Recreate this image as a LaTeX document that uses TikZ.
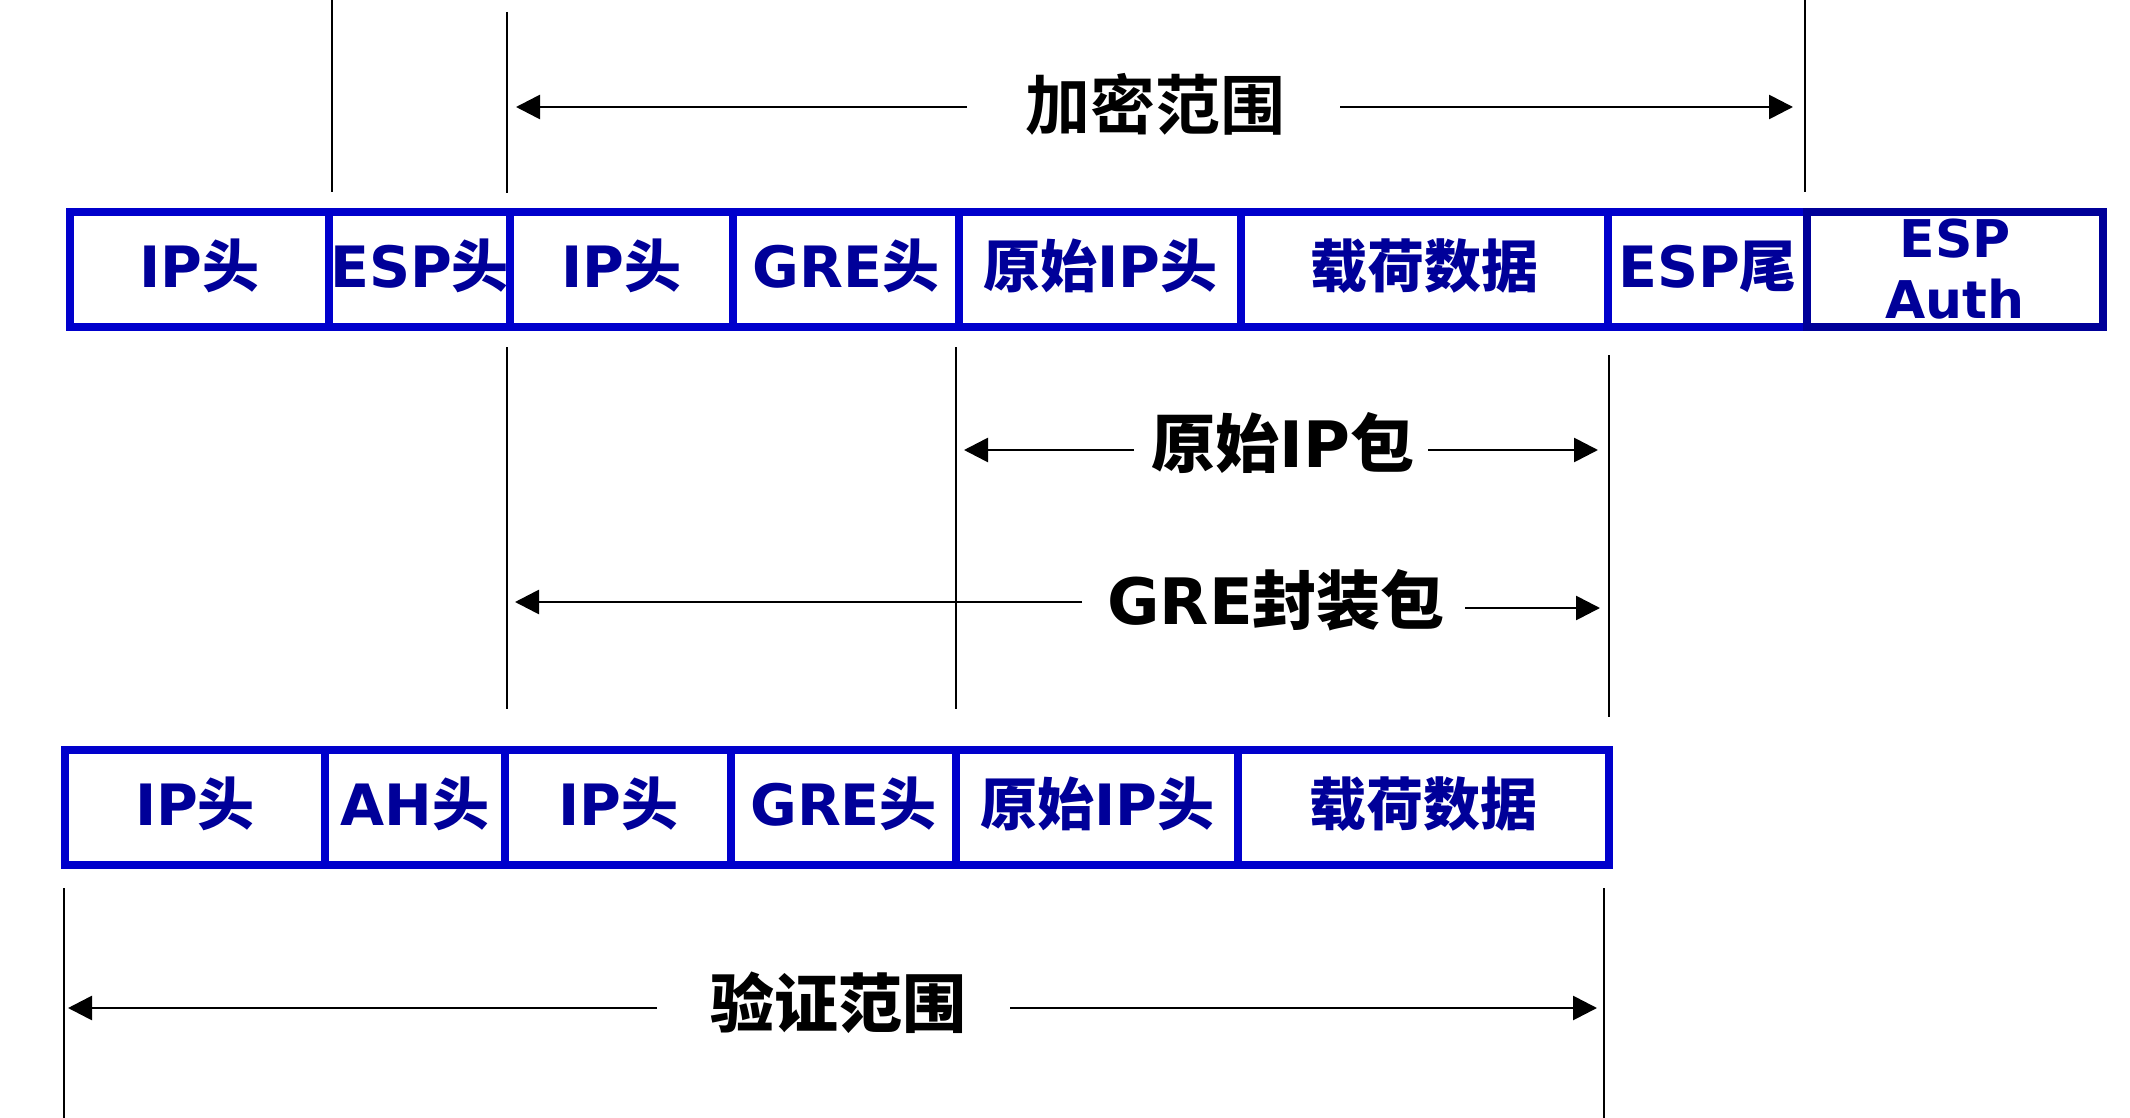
\documentclass[tikz,border=0pt]{standalone}
\usepackage{fontspec}
\setmainfont{DejaVu Sans}
\newfontfamily\cjkf{Noto Sans CJK SC}[UprightFont=* Bold]
\newcommand\zh[1]{{\cjkf #1}}
\newcommand\cl[1]{\makebox[0pt]{#1}}
\usetikzlibrary{arrows.meta}
\definecolor{cellblue}{HTML}{0000CC}
\definecolor{authblue}{HTML}{000099}
\definecolor{txtblue}{HTML}{000099}
\tikzset{
  basecell/.style={draw=cellblue, line width=4pt, rectangle, outer sep=0pt, inner sep=0pt,
    minimum height=57.5pt, anchor=west, text=txtblue,
    font=\fontsize{28.5pt}{30.5pt}\selectfont\bfseries},
  cell/.style={basecell, text height=18pt, text depth=0pt},
  authcell/.style={basecell, draw=authblue, align=center,
    font=\fontsize{26pt}{30.5pt}\selectfont\bfseries},
  arr/.style={-{Triangle[length=12pt,width=12pt]}, line width=1.35pt},
  vline/.style={line width=1.4pt},
  lbl/.style={font=\fontsize{32pt}{34pt}\selectfont\bfseries, inner sep=0pt, text=black}
}
\begin{document}
\begin{tikzpicture}[x=0.5pt,y=-0.5pt]
\useasboundingbox (0,0) rectangle (2130,1118);
% ---------- top row ----------
\node[cell, minimum width=129.5pt] (t1) at (70,269.5)   {\cl{IP\zh{头}}};
\node[cell, minimum width=90.5pt]  (t2) at (329,269.5)  {\cl{ESP\zh{头}}};
\node[cell, minimum width=111.5pt] (t3) at (510,269.5)  {\cl{IP\zh{头}}};
\node[cell, minimum width=113pt]   (t4) at (733,269.5)  {\cl{GRE\zh{头}}};
\node[cell, minimum width=141pt]   (t5) at (959,269.5)  {\cl{\zh{原始}IP\zh{头}}};
\node[cell, minimum width=183.5pt] (t6) at (1241,269.5) {\cl{\zh{载荷数据}}};
\node[cell, minimum width=99.5pt]  (t7) at (1608,269.5) {\cl{ESP\zh{尾}}};
\node[authcell, minimum width=148pt] (ta) at (1807,269.5) {ESP\\Auth};
% ---------- bottom row ----------
\node[cell, minimum width=130pt]   (b1) at (65,807.5)   {\cl{IP\zh{头}}};
\node[cell, minimum width=90pt]    (b2) at (325,807.5)  {\cl{AH\zh{头}}};
\node[cell, minimum width=113pt]   (b3) at (505,807.5)  {\cl{IP\zh{头}}};
\node[cell, minimum width=112.5pt] (b4) at (731,807.5)  {\cl{GRE\zh{头}}};
\node[cell, minimum width=141pt]   (b5) at (956,807.5)  {\cl{\zh{原始}IP\zh{头}}};
\node[cell, minimum width=185.5pt] (b6) at (1238,807.5) {\cl{\zh{载荷数据}}};
% ---------- vertical guide lines ----------
\coordinate (v1a) at (332,0);    \coordinate (v1b) at (332,192);
\coordinate (v2a) at (507,12);   \coordinate (v2b) at (507,193);
\coordinate (v3a) at (1805,0);   \coordinate (v3b) at (1805,192);
\coordinate (v4a) at (507,347);  \coordinate (v4b) at (507,709);
\coordinate (v5a) at (956,347);  \coordinate (v5b) at (956,709);
\coordinate (v6a) at (1609,355); \coordinate (v6b) at (1609,717);
\coordinate (v7a) at (64,888);   \coordinate (v7b) at (64,1118);
\coordinate (v8a) at (1604,888); \coordinate (v8b) at (1604,1118);
\foreach \v in {1,...,8} \draw[vline] (v\v a) -- (v\v b);
% ---------- labels ----------
\node[lbl, font=\fontsize{32.5pt}{34pt}\selectfont] (jm) at (1155,104) {\zh{加密范围}};
\node[lbl] (ip) at (1283,443) {\zh{原始}IP\zh{包}};
\node[lbl] (gre) at (1276,600) {GRE\zh{封装包}};
\node[lbl] (yz) at (838,1003) {\zh{验证范围}};
% ---------- arrows ----------
\coordinate (jmL) at (967,107);  \coordinate (jmLt) at (516,107);
\coordinate (jmR) at (1340,107); \coordinate (jmRt) at (1793,107);
\draw[arr] (jmL) -- (jmLt);
\draw[arr] (jmR) -- (jmRt);
\coordinate (ipL) at (1134,450); \coordinate (ipLt) at (964,450);
\coordinate (ipR) at (1428,450); \coordinate (ipRt) at (1598,450);
\draw[arr] (ipL) -- (ipLt);
\draw[arr] (ipR) -- (ipRt);
\coordinate (grL) at (1082,602); \coordinate (grLt) at (515,602);
\coordinate (grR) at (1465,608); \coordinate (grRt) at (1600,608);
\draw[arr] (grL) -- (grLt);
\draw[arr] (grR) -- (grRt);
\coordinate (yzL) at (657,1008); \coordinate (yzLt) at (68,1008);
\coordinate (yzR) at (1010,1008); \coordinate (yzRt) at (1597,1008);
\draw[arr] (yzL) -- (yzLt);
\draw[arr] (yzR) -- (yzRt);
\end{tikzpicture}
\end{document}
